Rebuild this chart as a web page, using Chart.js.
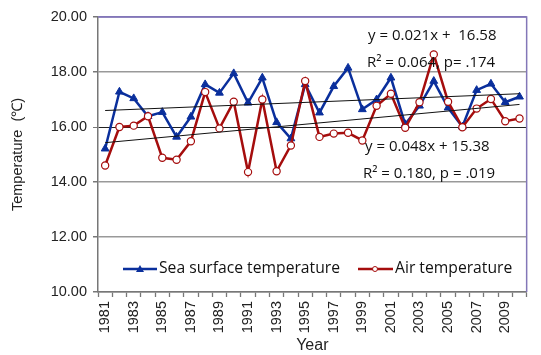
<!DOCTYPE html>
<html>
<head>
<meta charset="utf-8">
<script src="https://cdn.jsdelivr.net/npm/chart.js@4"></script>
<style>
  html, body { margin: 0; padding: 0; background: #fff; }
  #caixa { width: 541px; height: 355px; }
</style>
</head>
<body>
<div id="caixa"><canvas id="grafico"></canvas></div>
<script>
const anos = ["1981","1982","1983","1984","1985","1986","1987","1988","1989","1990",
  "1991","1992","1993","1994","1995","1996","1997","1998","1999","2000",
  "2001","2002","2003","2004","2005","2006","2007","2008","2009","2010"];

// temperatura da superficie do mar
const tempMar = [15.21, 17.28, 17.04, 16.39, 16.54, 15.64, 16.37, 17.55, 17.24, 17.95,
  16.88, 17.79, 16.17, 15.58, 17.55, 16.52, 17.48, 18.15, 16.64, 17.00,
  17.79, 16.10, 16.77, 17.67, 16.70, 16.01, 17.34, 17.57, 16.90, 17.10];

// temperatura do ar
const tempAr = [14.60, 16.00, 16.05, 16.39, 14.88, 14.81, 15.48, 17.27, 15.95, 16.92,
  14.36, 17.00, 14.39, 15.33, 17.67, 15.64, 15.76, 15.79, 15.51, 16.77,
  17.21, 15.97, 16.90, 18.64, 16.92, 15.99, 16.67, 17.02, 16.21, 16.31];

// pontas das retas de tendencia (inicio e fim)
const tendenciaMar = [16.60, 17.21];
const tendenciaAr = [15.43, 16.82];

const textosEquacao = [
  "y = 0.021x +  16.58",
  "R\u00b2 = 0.064, p= .174",
  "y = 0.048x + 15.38",
  "R\u00b2 = 0.180, p = .019"
];

const legendas = ["Sea surface temperature", "Air temperature"];

function reta(pontas) {
  let lista = [];
  for (let i = 0; i < anos.length; i++) lista.push(null);
  lista[0] = pontas[0];
  lista[anos.length - 1] = pontas[1];
  return lista;
}

const azul = "#0a2f9c";
const vermelho = "#a50d0d";
const fonteTexto = '"Open Sans", "Noto Sans", sans-serif';
const fonteEixo = '"Liberation Sans", Arial, sans-serif';

const extras = {
  id: "extras",
  afterDraw(chart) {
    const ctx = chart.ctx;
    const area = chart.chartArea;
    ctx.save();
    // borda roxa em cima e na direita
    ctx.strokeStyle = "#8377b8";
    ctx.lineWidth = 1.5;
    ctx.beginPath();
    ctx.moveTo(area.left, area.top);
    ctx.lineTo(area.right, area.top);
    ctx.lineTo(area.right, area.bottom);
    ctx.stroke();

    // equacoes
    ctx.fillStyle = "#111";
    ctx.font = "15px " + fonteTexto;
    ctx.textBaseline = "middle";
    ctx.textAlign = "left";
    ctx.fillText(textosEquacao[0], 368, 36);
    ctx.fillText(textosEquacao[1], 367, 63);
    ctx.fillText(textosEquacao[2], 365, 147);
    ctx.fillText(textosEquacao[3], 363, 174);

    // legenda dentro da area
    const yLeg = 269;
    ctx.lineWidth = 2.5;
    ctx.strokeStyle = azul;
    ctx.beginPath();
    ctx.moveTo(123, yLeg);
    ctx.lineTo(157, yLeg);
    ctx.stroke();
    ctx.fillStyle = azul;
    ctx.beginPath();
    ctx.moveTo(140, yLeg - 4);
    ctx.lineTo(144, yLeg + 3);
    ctx.lineTo(136, yLeg + 3);
    ctx.closePath();
    ctx.fill();

    ctx.strokeStyle = vermelho;
    ctx.beginPath();
    ctx.moveTo(358, yLeg);
    ctx.lineTo(393, yLeg);
    ctx.stroke();
    ctx.fillStyle = "#fff";
    ctx.lineWidth = 1;
    ctx.beginPath();
    ctx.arc(375, yLeg, 2.5, 0, Math.PI * 2);
    ctx.fill();
    ctx.stroke();

    ctx.fillStyle = "#111";
    ctx.font = "15.7px " + fonteTexto;
    ctx.fillText(legendas[0], 159, yLeg);
    ctx.fillText(legendas[1], 395, yLeg);
    ctx.restore();
  }
};

new Chart(document.getElementById("grafico").getContext("2d"), {
  type: "line",
  data: {
    labels: anos,
    datasets: [
      {
        label: legendas[0],
        data: tempMar,
        borderColor: azul,
        backgroundColor: azul,
        borderWidth: 2.5,
        tension: 0,
        pointStyle: "triangle",
        pointRadius: 4.5,
        pointBorderWidth: 1,
        order: 2,
      },
      {
        label: legendas[1],
        data: tempAr,
        borderColor: vermelho,
        backgroundColor: "#fff",
        borderWidth: 2.5,
        tension: 0,
        pointStyle: "circle",
        pointRadius: 3.6,
        pointBorderWidth: 1.2,
        order: 1,
      },
      {
        data: reta(tendenciaMar),
        borderColor: "#111",
        borderWidth: 1,
        pointRadius: 0,
        spanGaps: true,
        order: 0,
      },
      {
        data: reta(tendenciaAr),
        borderColor: "#111",
        borderWidth: 1,
        pointRadius: 0,
        spanGaps: true,
        order: 0,
      },
    ],
  },
  options: {
    animation: false,
    responsive: true,
    maintainAspectRatio: false,
    layout: { padding: { top: 17, right: 1, left: 0, bottom: 0 } },
    plugins: {
      legend: { display: false },
      tooltip: { enabled: false },
    },
    scales: {
      x: {
        type: "category",
        offset: true,
        afterFit: (s) => { s.height = 63; },
        grid: {
          offset: true,
          drawOnChartArea: false,
          tickLength: 5,
          tickColor: "#777",
          tickWidth: 1.3,
        },
        border: { color: "#777", width: 1.5 },
        ticks: {
          autoSkip: false,
          maxRotation: 90,
          minRotation: 90,
          padding: 4,
          color: "#222",
          font: { family: fonteEixo, size: 14.5 },
          callback: function (v, i) {
            return i % 2 == 0 ? anos[i] : "";
          },
        },
        title: {
          display: true,
          text: "Year",
          color: "#222",
          padding: { top: 0, bottom: 0 },
          font: { family: fonteEixo, size: 16 },
        },
      },
      y: {
        min: 10,
        max: 20,
        afterFit: (s) => { s.width = 98; },
        grid: {
          color: (c) => c.tick && c.tick.value == 16 ? "#222" : (c.tick && c.tick.value == 20 ? "#8377b8" : "#999"),
          lineWidth: (c) => c.tick && c.tick.value == 16 ? 1 : 1.5,
          tickLength: 5,
          tickColor: "#777",
        },
        border: { color: "#777", width: 1.5 },
        ticks: {
          stepSize: 2,
          padding: 6,
          color: "#222",
          font: { family: fonteEixo, size: 14.5 },
          callback: (v) => v.toFixed(2),
        },
        title: {
          display: true,
          text: "Temperature  (\u2103)",
          color: "#222",
          padding: { top: 9, bottom: 4 },
          font: { family: fonteEixo, size: 14.5 },
        },
      },
    },
  },
  plugins: [extras],
});
</script>
</body>
</html>
